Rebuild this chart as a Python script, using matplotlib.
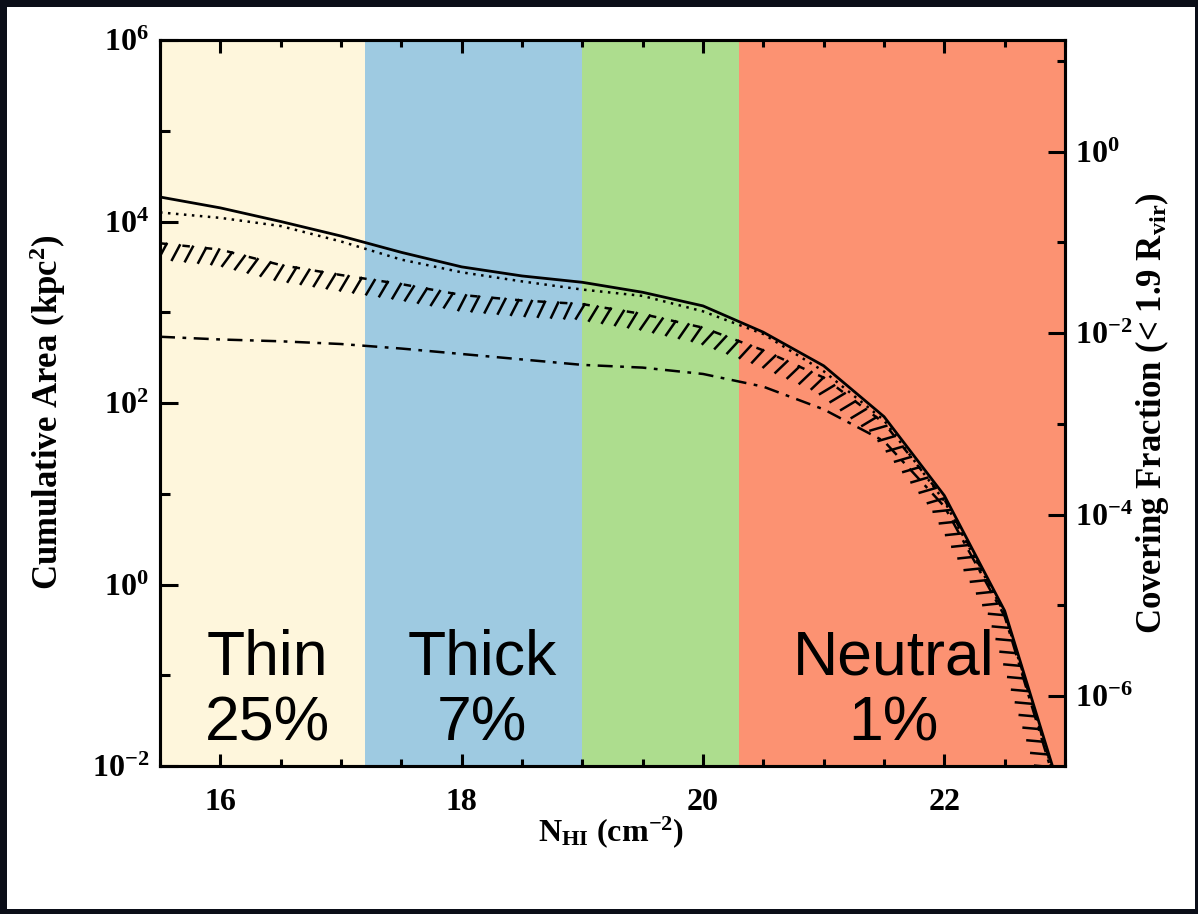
import numpy as np
import matplotlib
matplotlib.use('Agg')
import matplotlib.pyplot as plt
import matplotlib.patheffects as pe
from matplotlib.patches import Rectangle
from matplotlib.ticker import FixedLocator, FuncFormatter, NullFormatter

plt.rcParams['font.family'] = 'serif'
plt.rcParams['font.serif'] = ['Liberation Serif']
plt.rcParams['font.weight'] = 'bold'
plt.rcParams['mathtext.fontset'] = 'custom'
plt.rcParams['mathtext.rm'] = 'Liberation Serif:bold'
plt.rcParams['mathtext.it'] = 'Liberation Serif:bold'
plt.rcParams['mathtext.bf'] = 'Liberation Serif:bold'

# column density grid (log N_HI) and log10 cumulative area (kpc^2)
nhi = [15.5, 16.0, 16.5, 17.0, 17.5, 18.0, 18.5, 19.0, 19.5, 20.0,
       20.5, 21.0, 21.5, 22.0, 22.5, 23.0]
log_total = [4.27, 4.15, 4.00, 3.84, 3.66, 3.50, 3.40, 3.33, 3.22, 3.07,
             2.78, 2.41, 1.85, 0.98, -0.29, -2.45]
log_dotted = [4.10, 4.04, 3.95, 3.78, 3.58, 3.44, 3.34, 3.25, 3.18, 3.01,
              2.76, 2.35, 1.81, 0.92, -0.32, -2.50]
log_hatched = [3.76, 3.69, 3.52, 3.41, 3.31, 3.19, 3.13, 3.09, 2.98, 2.83,
               2.58, 2.28, 1.78, 0.94, -0.31, -2.50]
log_dashdot = [2.73, 2.70, 2.68, 2.65, 2.60, 2.54, 2.48, 2.42, 2.39, 2.32,
               2.18, 1.93, 1.58, 0.86, -0.35, -2.55]

# absorber classes
edges = [15.5, 17.2, 19.0, 20.3, 23.0]
region_colors = ['#fef6dc', '#9ecae1', '#addd8e', '#fc9272']
region_text = ['Thin\n25%', 'Thick\n7%', '', 'Neutral\n1%']
text_x = [16.39, 18.17, 19.65, 21.58]

rvir = 72.0  # kpc
area = np.pi * (1.9 * rvir) ** 2

fig = plt.figure(figsize=(11.98, 9.14), dpi=100)
fig.patch.set_facecolor('#0b0e18')
fig.patches.append(Rectangle((7 / 1198, 5 / 914), 1188 / 1198, 902 / 914,
                             transform=fig.transFigure, facecolor='white',
                             edgecolor='none', zorder=-10))

ax = fig.add_axes([160 / 1198, 148 / 914, 905 / 1198, 726 / 914])
ax.set_xlim(15.5, 23.0)
ax.set_yscale('log')
ax.set_ylim(1e-2, 1e6)

for i in range(len(region_colors)):
    ax.axvspan(edges[i], edges[i + 1], color=region_colors[i], lw=0, zorder=0)
    if region_text[i]:
        ax.text(text_x[i], 0.103, region_text[i], transform=ax.get_xaxis_transform(),
                ha='center', va='center', fontsize=45, family='Liberation Sans',
                fontweight='normal', linespacing=1.15, zorder=5)

x = np.array(nhi)
ax.plot(x, 10 ** np.array(log_total), color='black', lw=2.0, zorder=4)
ax.plot(x, 10 ** np.array(log_dotted), color='black', lw=1.8, ls=(0, (1, 2.2)), zorder=4)
ax.plot(x, 10 ** np.array(log_dashdot), color='black', lw=1.8, ls=(0, (6, 3, 1.5, 3)), zorder=4)
# hatched curve: short dashes plus slanted ticks
ax.plot(x, 10 ** np.array(log_hatched), color='black', lw=1.8, ls=(0, (3, 6)), zorder=4)
ax.plot(x, 10 ** np.array(log_hatched), color='black', lw=1.8, zorder=4,
        path_effects=[pe.TickedStroke(spacing=9.5, angle=-112, length=1.25)])

# axes styling
for s in ax.spines.values():
    s.set_linewidth(2.2)
ax.xaxis.set_major_locator(FixedLocator([16, 18, 20, 22]))
ax.xaxis.set_minor_locator(FixedLocator(np.arange(15.5, 23.01, 0.5)))
ax.yaxis.set_major_locator(FixedLocator([1e-2, 1e0, 1e2, 1e4, 1e6]))
ax.yaxis.set_minor_locator(FixedLocator([1e-1, 1e1, 1e3, 1e5]))
ax.yaxis.set_minor_formatter(NullFormatter())
fmt = FuncFormatter(lambda v, p: r'$\mathbf{10^{%d}}$' % int(round(np.log10(v))))
ax.yaxis.set_major_formatter(fmt)
ax.tick_params(axis='x', which='major', direction='in', length=9, width=2.2,
               top=True, labelsize=23, pad=16)
ax.tick_params(axis='x', which='minor', direction='in', length=5, width=2.2, top=True)
ax.tick_params(axis='y', which='major', direction='in', length=13, width=2.2,
               right=False, labelsize=23, pad=8)
ax.tick_params(axis='y', which='minor', direction='in', length=7, width=2.2, right=False)

ax2 = ax.twinx()
ax2.set_yscale('log')
ax2.set_ylim(1e-2 / area, 1e6 / area)
ax2.yaxis.set_major_locator(FixedLocator([1e-6, 1e-4, 1e-2, 1e0]))
ax2.yaxis.set_minor_locator(FixedLocator([1e-7, 1e-5, 1e-3, 1e-1, 1e1]))
ax2.yaxis.set_minor_formatter(NullFormatter())
ax2.yaxis.set_major_formatter(fmt)
ax2.tick_params(axis='y', which='major', direction='in', length=12, width=2.2,
                labelsize=23, pad=7)
ax2.tick_params(axis='y', which='minor', direction='in', length=6, width=2.2)
for s in ax2.spines.values():
    s.set_linewidth(2.2)

fig.text(48 / 1198, 1 - 412 / 914, r'Cumulative Area (kpc$^2$)', rotation=90,
         ha='center', va='center', fontsize=25)
fig.text(1152 / 1198, 1 - 413 / 914, r'Covering Fraction (< 1.9 R$_{\rm vir}$)',
         rotation=90, ha='center', va='center', fontsize=25)
fig.text(611 / 1198, 1 - 832 / 914, r'N$_{\rm HI}$ (cm$^{-2}$)',
         ha='center', va='center', fontsize=23)

fig.savefig('out.png', dpi=100, facecolor=fig.get_facecolor())
